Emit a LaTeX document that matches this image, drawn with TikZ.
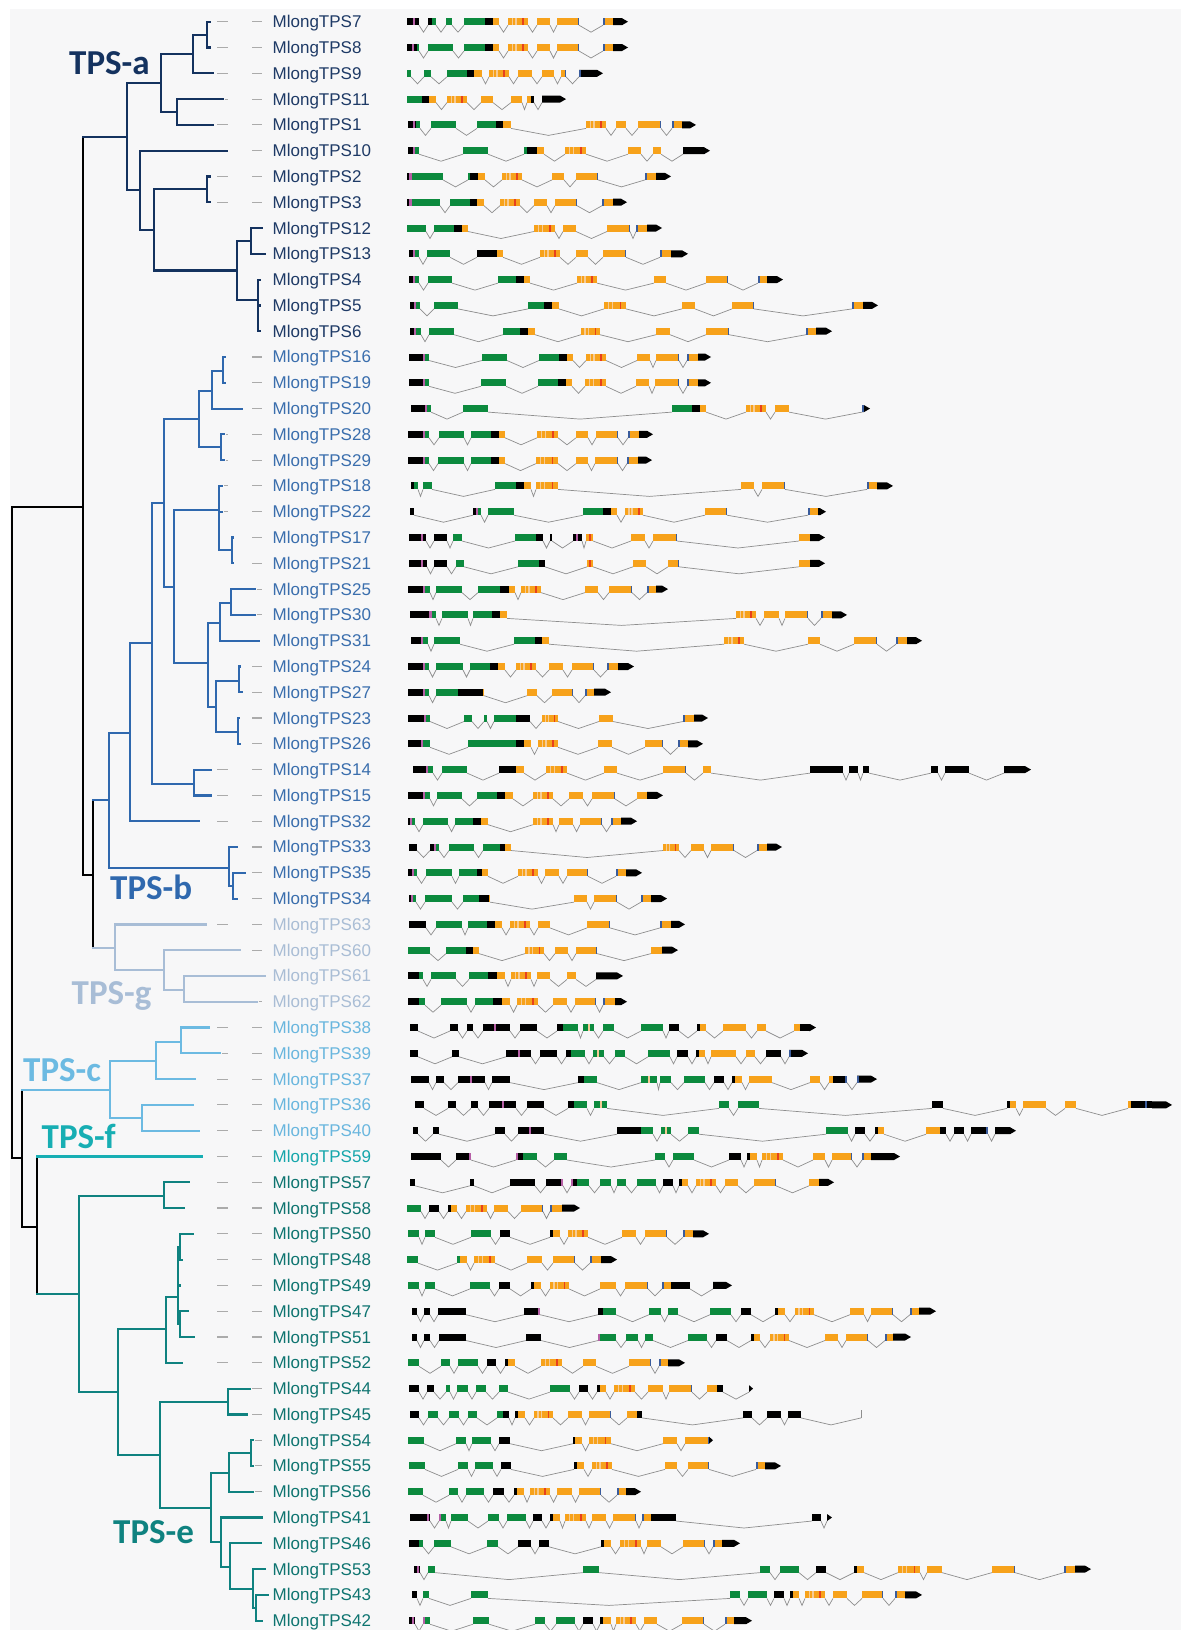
\documentclass[tikz,border=0pt]{standalone}
\usepackage{fontspec}
\setmainfont{Liberation Sans}
\newfontfamily\cladefont{Carlito}
\definecolor{panel}{HTML}{F7F7F8}
\definecolor{ca}{HTML}{14325F}
\definecolor{cb}{HTML}{2F68AE}
\definecolor{cg}{HTML}{A8BDD6}
\definecolor{cc}{HTML}{6CBAE2}
\definecolor{cf}{HTML}{17AEB3}
\definecolor{ce}{HTML}{0F8280}
\definecolor{la}{HTML}{1E3A66}
\definecolor{lb}{HTML}{3A6EAD}
\definecolor{lg}{HTML}{A9BDD5}
\definecolor{lc}{HTML}{69B6DE}
\definecolor{lf}{HTML}{15A6AB}
\definecolor{le}{HTML}{0E7470}
\definecolor{blk}{HTML}{000000}
\definecolor{grn}{HTML}{0C8A3E}
\definecolor{orng}{HTML}{F7A21B}
\definecolor{pnk}{HTML}{B65FA6}
\definecolor{redc}{HTML}{E8401C}
\definecolor{lite}{HTML}{F6CB95}
\definecolor{blu}{HTML}{3A5C9C}
\definecolor{intrc}{HTML}{8E8E8E}
\definecolor{dshc}{HTML}{ABABAB}
\tikzset{
 tl/.style={line width=2.2pt, line cap=rect},
 dsh/.style={line width=1.1pt, draw=dshc},
 intr/.style={line width=0.7pt, draw=intrc, line join=miter},
 lbl/.style={anchor=base west, inner sep=0pt, font=\fontsize{17}{17}\selectfont},
 clade/.style={anchor=base west, inner sep=0pt, font=\cladefont\bfseries\fontsize{35}{35}\selectfont},
}
% tree helpers
\newcommand\inode[6]{\draw[tl,#1] (#2,#4) -- (#3,#4); \draw[tl,#1] (#3,#5) -- (#3,#6);}
\newcommand\leaf[4]{\draw[tl,#1] (#2,#4) -- (#3,#4);
  \ifdim #3pt<225pt \pgfmathsetmacro\dsa{max(#3+2,217)}\draw[dsh] (\dsa,#4) -- (228,#4);\fi
  \ifdim #3pt<258pt \pgfmathsetmacro\dsb{max(#3+2,252)}\draw[dsh] (\dsb,#4) -- (262,#4);\fi}
% gene helpers
\newcommand\intron[2]{\pgfmathtruncatemacro\doit{((#1-\prevx)>1.5)*(\prevx>0)}%
  \ifnum\doit=1 \draw[intr] (\prevx,#2+3.5) -- ({(\prevx+#1)/2},#2+10.5) -- (#1,#2+3.5);\fi}
\newcommand\segK[3]{\intron{#1}{#3}\fill[blk] (#1,#3-3.5) rectangle (#2,#3+3.5);\xdef\prevx{#2}}
\newcommand\segG[3]{\intron{#1}{#3}\fill[grn] (#1,#3-3.5) rectangle (#2,#3+3.5);\xdef\prevx{#2}}
\newcommand\segO[3]{\intron{#1}{#3}\fill[orng] (#1,#3-3.5) rectangle (#2,#3+3.5);\xdef\prevx{#2}}
\newcommand\segE[3]{\intron{#1}{#3}\fill[orng] (#1,#3-3.5) rectangle (#2,#3+3.5);\fill[blu] ({#2-1.5},#3-3.5) rectangle (#2,#3+3.5);\xdef\prevx{#2}}
\newcommand\segS[3]{\intron{#1}{#3}\fill[orng] (#1,#3-3.5) rectangle (#2,#3+3.5);%
  \pgfmathsetmacro\stA{#1+0.18*(#2-#1)}\fill[lite] (\stA,#3-3.5) rectangle +(1.3,7);%
  \pgfmathsetmacro\stB{#1+0.36*(#2-#1)}\fill[lite] (\stB,#3-3.5) rectangle +(1.3,7);%
  \pgfmathsetmacro\stC{#1+0.72*(#2-#1)}\fill[redc] (\stC,#3-3.5) rectangle +(1.6,7);%
  \xdef\prevx{#2}}
\newcommand\segA[3]{\intron{#1}{#3}\pgfmathsetmacro\tipx{max(#1,#2-6)}%
  \fill[blk] (#1,#3-3.5) -- (\tipx,#3-3.5) -- (#2,#3) -- (\tipx,#3+3.5) -- (#1,#3+3.5) -- cycle;\xdef\prevx{#2}}
\newcommand\segT[3]{\intron{#1}{#3}\draw[intr] (#1,#3-4) -- (#1,#3+3.5);\xdef\prevx{#2}}
\newcommand\segp[3]{\fill[pnk] (#1,#3-3.5) rectangle (#2,#3+3.5);}
\newcommand\segb[3]{\fill[blu] (#1,#3-3.5) rectangle (#2,#3+3.5);}
\newcommand\segl[3]{\fill[lite] (#1,#3-3.5) rectangle (#2,#3+3.5);}
\newcommand\segr[3]{\fill[redc] (#1,#3-3.5) rectangle (#2,#3+3.5);}
\newcommand\gene[2]{\gdef\prevx{-100}\foreach \ga/\gb/\gc in {#2}{\csname seg\gc\endcsname{\ga}{\gb}{#1}}}
\begin{document}
\begin{tikzpicture}[x=1pt,y=-1pt]
\useasboundingbox (0,0) rectangle (1181,1630);
\fill[white] (0,0) rectangle (1181,1630);
\fill[panel] (10,9) rectangle (1181,1630);
% ---- backbone
\draw[tl,black] (11.7,506.7) -- (11.7,1158.3);
\inode{black}{11.7}{82.7}{506.7}{136.7}{875}
\inode{black}{82.7}{93.3}{875}{800}{948.3}
\inode{black}{11.7}{21.7}{1158.3}{1090}{1226.7}
\inode{black}{21.7}{36.7}{1226.7}{1156.5}{1294}
% ---- TPS-a
\inode{ca}{193.3}{207.3}{34.6}{21.7}{47.5}
\inode{ca}{160.7}{193.3}{54}{34.6}{73.3}
\inode{ca}{160.7}{176.7}{112}{99.1}{124.9}
\inode{ca}{127.3}{160.7}{83}{54}{112}
\inode{ca}{154}{207.3}{189.3}{176.4}{202.2}
\inode{ca}{237.3}{250.7}{241}{228}{253.8}
\inode{ca}{237.3}{258.3}{300}{279.6}{331.2}
\inode{ca}{154}{237.3}{270.5}{241}{300}
\inode{ca}{140}{154}{230}{189.3}{270.5}
\inode{ca}{127.3}{140}{190.3}{150.7}{230}
\inode{ca}{82.7}{127.3}{136.7}{83}{190.3}
\leaf{ca}{207.3}{210}{21.7}
\leaf{ca}{207.3}{210}{47.5}
\leaf{ca}{193.3}{213.3}{73.3}
\leaf{ca}{176.7}{222.7}{99.1}
\leaf{ca}{176.7}{213.3}{124.9}
\leaf{ca}{140}{226.7}{150.7}
\leaf{ca}{207.3}{210}{176.4}
\leaf{ca}{207.3}{210}{202.2}
\leaf{ca}{250.7}{262}{228}
\leaf{ca}{250.7}{265}{253.8}
\leaf{ca}{258.3}{260}{279.6}
\leaf{ca}{258.3}{260}{305.4}
\leaf{ca}{258.3}{260}{331.2}
% ---- TPS-b
\inode{cb}{212.3}{222.7}{370.7}{357}{382.8}
\inode{cb}{199}{212.3}{390.7}{370.7}{408.6}
\inode{cb}{199}{221}{447.3}{434.3}{460.1}
\inode{cb}{164.3}{199}{419.3}{390.7}{447.3}
\inode{cb}{219}{232.3}{550.3}{537.5}{563.3}
\inode{cb}{174.3}{219}{510}{485.9}{550.3}
\inode{cb}{220}{230.7}{603.3}{589.1}{614.9}
\inode{cb}{208.3}{220}{622.7}{603.3}{640.7}
\inode{cb}{216}{239}{680.7}{666.5}{692.2}
\inode{cb}{216}{237.7}{731.7}{718}{743.8}
\inode{cb}{208.3}{216}{706.7}{680.7}{731.7}
\inode{cb}{174.3}{208.3}{663.3}{622.7}{706.7}
\inode{cb}{164.3}{174.3}{586.7}{510}{663.3}
\inode{cb}{152.3}{164.3}{502.7}{419.3}{586.7}
\inode{cb}{152.3}{194}{784.3}{769.6}{795.4}
\inode{cb}{130}{152.3}{643.3}{502.7}{784.3}
\inode{cb}{109}{130}{732.7}{643.3}{821.2}
\inode{cb}{229.3}{233.3}{886}{872.8}{898.6}
\inode{cb}{109}{229.3}{868.3}{847}{886}
\inode{cb}{93.3}{109}{800}{732.7}{868.3}
\leaf{cb}{222.7}{225}{357}
\leaf{cb}{222.7}{225}{382.8}
\leaf{cb}{212.3}{242.3}{408.6}
\leaf{cb}{221}{224}{434.3}
\leaf{cb}{221}{224}{460.1}
\leaf{cb}{219}{222}{485.9}
\leaf{cb}{219}{222}{511.7}
\leaf{cb}{232.3}{233}{537.5}
\leaf{cb}{232.3}{233}{563.3}
\leaf{cb}{230.7}{255}{589.1}
\leaf{cb}{230.7}{255}{614.9}
\leaf{cb}{220}{259.3}{640.7}
\leaf{cb}{239}{240}{666.5}
\leaf{cb}{239}{242}{692.2}
\leaf{cb}{237.7}{239}{718}
\leaf{cb}{237.7}{240}{743.8}
\leaf{cb}{194}{210.7}{769.6}
\leaf{cb}{194}{210.7}{795.4}
\leaf{cb}{130}{199}{821.2}
\leaf{cb}{229.3}{237}{847}
\leaf{cb}{233.3}{245}{872.8}
\leaf{cb}{233.3}{237}{898.6}
% ---- TPS-g
\inode{cg}{93.3}{115}{948.3}{924.4}{970}
\inode{cg}{115}{164.3}{970}{950.1}{990}
\inode{cg}{164.3}{184.3}{990}{975.9}{1001.7}
\leaf{cg}{115}{206}{924.4}
\leaf{cg}{164.3}{240}{950.1}
\leaf{cg}{184.3}{265}{975.9}
\leaf{cg}{184.3}{256.7}{1001.7}
% ---- TPS-c
\inode{cc}{21.7}{110}{1090}{1061}{1118.3}
\inode{cc}{110}{155.7}{1061}{1041.7}{1079.1}
\inode{cc}{155.7}{181}{1041.7}{1027.5}{1053.3}
\inode{cc}{110}{141.7}{1118.3}{1104.9}{1130.7}
\leaf{cc}{181}{209.3}{1027.5}
\leaf{cc}{181}{220}{1053.3}
\leaf{cc}{155.7}{195}{1079.1}
\leaf{cc}{141.7}{193.3}{1104.9}
\leaf{cc}{141.7}{199}{1130.7}
% ---- TPS-f
\leaf{cf}{36.7}{202.3}{1156.5}
% ---- TPS-e
\inode{ce}{36.7}{79}{1294}{1195.7}{1392.3}
\inode{ce}{79}{164.3}{1195.7}{1182.3}{1208}
\inode{ce}{79}{117.7}{1392.3}{1329.3}{1455}
\inode{ce}{117.7}{165.7}{1329.3}{1296.7}{1362.8}
\inode{ce}{165.7}{177.7}{1296.7}{1246.7}{1324}
\inode{ce}{177.7}{180}{1246.7}{1233.8}{1259.6}
\inode{ce}{177.7}{180}{1324}{1311.2}{1337}
\inode{ce}{117.7}{160}{1455}{1402.3}{1508.3}
\inode{ce}{160}{227.7}{1402.3}{1388.6}{1414.4}
\inode{ce}{160}{211}{1508.3}{1472.7}{1542.3}
\inode{ce}{211}{229}{1472.7}{1453.3}{1491.7}
\inode{ce}{229}{250.7}{1453.3}{1440.2}{1465.9}
\inode{ce}{211}{221}{1542.3}{1517.5}{1566.7}
\inode{ce}{221}{230}{1566.7}{1543.3}{1589}
\inode{ce}{230}{253.3}{1589}{1569.1}{1608}
\inode{ce}{253.3}{255.7}{1608}{1594.9}{1620.7}
\leaf{ce}{164.3}{189.3}{1182.3}
\leaf{ce}{164.3}{184.3}{1208}
\leaf{ce}{180}{193}{1233.8}
\leaf{ce}{180}{182}{1259.6}
\leaf{ce}{177.7}{180}{1285.4}
\leaf{ce}{180}{187.7}{1311.2}
\leaf{ce}{180}{194.3}{1337}
\leaf{ce}{165.7}{181.7}{1362.8}
\leaf{ce}{227.7}{250}{1388.6}
\leaf{ce}{227.7}{247.3}{1414.4}
\leaf{ce}{250.7}{253}{1440.2}
\leaf{ce}{250.7}{253}{1465.9}
\leaf{ce}{229}{253.3}{1491.7}
\leaf{ce}{221}{262.3}{1517.5}
\leaf{ce}{230}{261}{1543.3}
\leaf{ce}{253.3}{265}{1569.1}
\leaf{ce}{255.7}{268.3}{1594.9}
\leaf{ce}{255.7}{262}{1620.7}
% ---- clade labels
\node[clade,text=ca] (cladeA) at (69,74) {TPS-a};
\node[clade,text=cb] (cladeB) at (110,899) {TPS-b};
\node[clade,text=cg] (cladeG) at (71.5,1004) {TPS-g};
\node[clade,text=cc] (cladeC) at (23,1081) {TPS-c};
\node[clade,text=cf] (cladeF) at (41.5,1148.5) {TPS-f};
\node[clade,text=ce] (cladeE) at (113,1543) {TPS-e};
% ---- gene labels
\foreach \i/\n/\c in {0/7/la,1/8/la,2/9/la,3/11/la,4/1/la,5/10/la,6/2/la,7/3/la,8/12/la,9/13/la,10/4/la,11/5/la,12/6/la,
 13/16/lb,14/19/lb,15/20/lb,16/28/lb,17/29/lb,18/18/lb,19/22/lb,20/17/lb,21/21/lb,22/25/lb,23/30/lb,24/31/lb,25/24/lb,26/27/lb,27/23/lb,28/26/lb,29/14/lb,30/15/lb,31/32/lb,32/33/lb,33/35/lb,34/34/lb,
 35/63/lg,36/60/lg,37/61/lg,38/62/lg,
 39/38/lc,40/39/lc,41/37/lc,42/36/lc,43/40/lc,
 44/59/lf,
 45/57/le,46/58/le,47/50/le,48/48/le,49/49/le,50/47/le,51/51/le,52/52/le,53/44/le,54/45/le,55/54/le,56/55/le,57/56/le,58/41/le,59/46/le,60/53/le,61/43/le,62/42/le}
 {\node[lbl,text=\c] (l\n) at (272.5,{21.7+25.79*\i+6}) {MlongTPS\n};}
% ---- gene structures
\gene{21.7}{407/419/K, 413/415/p, 428/432/K, 432/436/G, 446/452/G, 464/485/G, 485/493/K, 493/499/O, 508/528/S, 537/550/O, 557/579/E, 603/613/O, 603/604.5/b, 613/628/A}
\gene{47.5}{407/417/K, 412/414/p, 417/419/G, 428/453/G, 464/485/G, 485/493/K, 493/499/O, 508/528/S, 537/550/O, 557/579/E, 603/613/O, 603/604.5/b, 613/628/A}
\gene{73.3}{407/411/G, 424/431/G, 447/467/G, 467/474/K, 474/482/O, 489/509/S, 518/532/O, 542/554/O, 561/566/E, 579/603/A, 579/580.5/b}
\gene{99.1}{407/422/G, 422/429/K, 429/436/O, 447/467/S, 481/493/O, 511/522/O, 527/531/O, 531/534/K, 542/566/A}
\gene{124.9}{408/416/K, 413/415/p, 416/420/G, 431/456/G, 477/496/G, 496/503/K, 503/511/O, 586/606/S, 616/626/O, 638/661/E, 672/682/O, 672/673.5/b, 682/696/A}
\gene{150.7}{408/415/K, 413/415/p, 415/419/G, 463/488/G, 524/527/G, 527/537/K, 537/544/O, 565/586/S, 628/641/O, 653/661/O, 683/710/A}
\gene{176.4}{407/412/K, 409/411.5/p, 412/443/G, 468/470/G, 470/478/K, 478/485/O, 502/522/S, 552/564/O, 576/598/E, 645/656/O, 645/646.5/b, 656/671/A}
\gene{202.2}{407/412/K, 409/411.5/p, 412/440/G, 450/470/G, 470/477/K, 477/484/O, 500/520/S, 534/547/O, 555/577/E, 602/613/O, 602/603.5/b, 613/627/A}
\gene{228}{407/426/G, 434/454/G, 454/462/K, 462/468/O, 534/555/S, 563/576/O, 607/630/E, 636/647/O, 636/637.5/b, 647/662/A}
\gene{253.8}{409/415/K, 413/415/p, 415/419/G, 427/450/G, 477/497/K, 497/503/O, 540/560/S, 576/588/O, 603/626/E, 660/671/O, 660/661.5/b, 671/688/A}
\gene{279.6}{409/415/K, 413/415/p, 415/419/G, 428/452/G, 498/516/G, 516/524/K, 524/530/O, 577/597/S, 654/666/O, 706/728/E, 758/767/O, 758/759.5/b, 767/783/A}
\gene{305.4}{410/416/K, 414/416/p, 416/420/G, 434/458/G, 528/544/G, 544/552/K, 552/559/O, 604/626/S, 682/695/O, 732/754/E, 852/863/O, 852/853.5/b, 863/878/A}
\gene{331.2}{410/416/K, 414/416/p, 416/421/G, 429/454/G, 503/520/G, 520/528/K, 528/535/O, 581/600/S, 656/670/O, 706/729/E, 806/816/O, 806/807.5/b, 816/832/A}
\gene{357}{409/425/K, 423/425/p, 425/429/G, 482/507/G, 539/559/G, 559/567/K, 567/573/O, 586/606/S, 637/650/O, 656/679/E, 687/698/O, 687/688.5/b, 698/711/A}
\gene{382.8}{409/425/K, 423/425/p, 425/429/G, 481/506/G, 538/558/G, 558/566/K, 566/572/O, 585/606/S, 636/649/O, 655/679/E, 687/698/O, 687/688.5/b, 698/711/A}
\gene{408.6}{411/427/K, 425/427/p, 427/431/G, 463/488/G, 672/692/G, 692/700/K, 700/706/O, 746/766/S, 775/789/O, 862/870/A, 862/864/b}
\gene{434.3}{408/425/K, 423/425/p, 425/429/G, 439/464/G, 471/491/G, 491/499/K, 499/505/O, 537/558/S, 576/588/O, 596/618/E, 628/639/O, 628/629.5/b, 639/653/A}
\gene{460.1}{408/425/K, 423/425/p, 425/429/G, 438/464/G, 471/491/G, 491/499/K, 499/505/O, 536/558/S, 576/588/O, 595/618/E, 627/638/O, 627/628.5/b, 638/652/A}
\gene{485.9}{411/414/K, 414/418/G, 423/432/G, 495/516/G, 516/524/K, 524/531/O, 536/558/S, 741/754/O, 762/785/E, 867/877/O, 867/868.5/b, 877/893/A}
\gene{511.7}{410/414/K, 473/478/K, 476/478/p, 478/481/G, 488/514/G, 583/603/G, 603/611/K, 611/617/O, 625/643/S, 705/727/E, 808/818/O, 808/809.5/b, 818/826/A}
\gene{537.5}{409/426/K, 421/423/p, 434/447/K, 453/462/G, 515/536/G, 536/543/K, 550/552/K, 573/582/K, 576/578/p, 586/593/O, 589/590.5/r, 631/645/O, 653/677/E, 799/810/O, 810/825/A}
\gene{563.3}{409/427/K, 421/423/p, 434/447/K, 456/464/G, 518/539/G, 539/545/K, 587/593/O, 589/590.5/r, 633/646/O, 668/679/E, 799/810/O, 810/825/A}
\gene{589.1}{408/425/K, 423/425/p, 425/430/G, 436/462/G, 478/500/G, 500/509/K, 509/515/O, 521/541/S, 585/598/O, 609/632/E, 647/656/O, 647/648.5/b, 656/668/A}
\gene{614.9}{410/432/K, 429/431.5/p, 432/436/G, 442/468/G, 473/492/G, 492/500/K, 500/507/O, 736/756/S, 764/779/O, 785/808/E, 821/832/O, 821/822.5/b, 832/847/A}
\gene{640.7}{411/423/K, 421/423/p, 423/428/G, 434/460/G, 514/535/G, 535/542/K, 542/549/O, 724/744/S, 808/820/O, 854/877/E, 896/907/O, 896/897.5/b, 907/922/A}
\gene{666.5}{408/425/K, 423/425/p, 425/429/G, 436/463/G, 470/490/G, 490/498/K, 498/505/O, 516/536/S, 549/563/O, 572/594/E, 607/618/O, 607/608.5/b, 618/634/A}
\gene{692.2}{408/425/K, 423/425/p, 425/429/G, 436/458/G, 458/483/K, 483/484/O, 527/537/O, 552/573/E, 585/594/O, 585/586.5/b, 594/611/A}
\gene{718}{408/426/K, 424/426/p, 426/430/G, 464/472/G, 484/487/G, 494/516/G, 516/530/K, 542/558/S, 599/613/O, 683/694/O, 683/684.5/b, 694/708/A}
\gene{743.8}{408/423/K, 421/423/p, 423/430/G, 468/516/G, 516/524/K, 524/531/O, 538/558/S, 598/612/O, 645/663/E, 678/688/O, 678/679.5/b, 688/703/A}
\gene{769.6}{413/428/K, 426/428/p, 428/433/G, 442/467/G, 499/516/K, 516/524/O, 546/567/S, 604/617/O, 663/686/E, 703/711/O, 810/843/K, 849/858/K, 863/869/K, 931/938/K, 945/969/K, 1004/1031/A}
\gene{795.4}{408/425/K, 423/425/p, 425/430/G, 437/462/G, 477/497/G, 497/505/K, 505/513/O, 533/553/S, 569/583/O, 592/615/E, 637/647/O, 647/663/A}
\gene{821.2}{408/412/K, 410/412/p, 412/415/G, 423/448/G, 455/473/G, 473/481/K, 481/488/O, 533/553/S, 559/573/O, 580/602/E, 611/621/O, 611/612.5/b, 621/637/A}
\gene{847}{409/417/K, 430/436/K, 434/436/p, 436/439/G, 449/474/G, 483/500/G, 500/505/K, 505/511/O, 663/679/S, 691/704/O, 711/734/E, 757/767/O, 757/758.5/b, 767/782/A}
\gene{872.8}{408/414/K, 412/414/p, 414/417/G, 426/452/G, 459/477/G, 477/482/K, 482/488/O, 518/538/S, 545/559/O, 567/588/E, 616/626/O, 616/617.5/b, 626/642/A}
\gene{898.6}{409/413/K, 411/413/p, 413/416/G, 425/452/G, 463/479/G, 479/489/K, 489/490/O, 574/587/O, 594/617/E, 641/651/O, 641/642.5/b, 651/667/A}
\gene{924.4}{409/426/K, 436/462/G, 468/487/G, 487/495/K, 495/502/O, 510/530/S, 538/550/O, 587/610/E, 660/671/O, 660/661.5/b, 671/685/A}
\gene{950.1}{408/430/G, 446/466/G, 466/473/K, 473/479/O, 525/544/S, 555/568/O, 576/597/E, 651/662/O, 662/678/A}
\gene{975.9}{408/419/K, 419/423/G, 431/456/G, 469/488/G, 488/497/K, 497/505/O, 511/531/S, 537/550/O, 567/576/O, 596/623/A}
\gene{1001.7}{408/419/K, 419/425/G, 441/467/G, 475/493/G, 493/502/K, 502/510/O, 517/538/S, 553/567/O, 575/596/E, 603/615/O, 603/604.5/b, 615/627/A}
\gene{1027.5}{410/418/K, 450/458/K, 467/473/K, 483/510/K, 494/496/p, 520/537/K, 557/563/K, 563/578/G, 583/594/G, 588/589.5/l, 603/614/G, 641/663/G, 669/679/K, 697/700/K, 700/706/O, 723/746/O, 757/766/O, 794/800/O, 800/809/K, 809/816/A}
\gene{1053.3}{410/418/K, 452/459/K, 506/531/K, 518/520/p, 540/557/K, 566/571/K, 571/585/G, 593/604/G, 597/598.5/l, 615/625/G, 648/670/G, 677/688/K, 696/699/K, 699/705/O, 711/736/O, 746/755/O, 766/781/K, 789/808/A, 789/791/b}
\gene{1079.1}{411/429/K, 436/444/K, 458/485/K, 470/472/p, 492/510/K, 578/584/K, 584/597/G, 641/657/G, 648/649.5/l, 660/671/G, 684/705/G, 714/724/K, 732/735/K, 735/742/O, 749/772/O, 810/820/O, 829/833/O, 833/847/K, 845/847/b, 857/877/A, 857/859/b}
\gene{1104.9}{415/424/K, 448/456/K, 471/478/K, 489/516/K, 502/504/p, 527/544/K, 568/574/K, 574/587/G, 594/607/G, 600/601.5/l, 719/729/G, 738/759/G, 932/943/K, 1007/1010/K, 1010/1016/O, 1023/1046/O, 1065/1076/O, 1128/1131/O, 1131/1152/K, 1145/1147/b, 1152/1172/A}
\gene{1130.7}{413/418/K, 433/439/K, 495/505/K, 518/544/K, 529/531/p, 617/641/K, 641/653/G, 661/671/G, 665/666.5/l, 688/699/G, 826/848/G, 855/865/K, 875/878/K, 878/884/O, 926/940/O, 940/946/K, 954/964/K, 971/988/K, 986/988/b, 995/1016/A}
\gene{1156.5}{411/441/K, 456/471/K, 469/471/p, 516/523/K, 516/518/p, 523/537/G, 554/567/G, 655/665/G, 673/694/G, 729/741/K, 747/750/K, 750/757/O, 762/783/S, 813/825/O, 832/852/E, 862/871/O, 862/863.5/b, 871/900/A}
\gene{1182.3}{410/415/K, 470/474/K, 510/535/K, 546/563/K, 561/563/p, 571/577/K, 571/573/p, 577/589/G, 600/611/G, 617/626/G, 637/656/G, 663/673/K, 679/682/K, 682/688/O, 696/716/S, 725/738/O, 754/776/E, 809/819/O, 819/834/A}
\gene{1208}{407/421/G, 429/439/K, 448/451/K, 451/457/O, 466/487/S, 494/508/O, 521/543/E, 550/562/O, 550/551.5/b, 562/580/A}
\gene{1233.8}{408/419/G, 425/435/G, 471/491/G, 500/510/K, 550/553/K, 553/560/O, 568/588/S, 622/636/O, 645/667/E, 683/693/O, 683/684.5/b, 693/709/A}
\gene{1259.6}{407/418/G, 457/460/G, 460/467/O, 474/495/S, 527/542/O, 553/575/E, 590/601/O, 590/591.5/b, 601/617/A}
\gene{1285.4}{408/419/G, 425/435/G, 470/490/G, 499/510/K, 531/534/K, 534/541/O, 550/569/S, 600/616/O, 625/648/E, 662/671/O, 662/663.5/b, 671/690/K, 713/732/A}
\gene{1311.2}{412/417/K, 424/430/K, 438/466/K, 524/540/K, 538/540/p, 598/603/K, 603/616/G, 649/661/G, 668/678/G, 710/731/G, 741/751/K, 775/778/K, 778/785/O, 795/814/S, 850/864/O, 871/893/E, 910/919/O, 910/911.5/b, 919/936/A}
\gene{1337}{412/417/K, 424/430/K, 439/466/K, 526/541/K, 598/616/G, 598/600/p, 626/638/G, 645/653/G, 688/707/G, 716/727/K, 751/754/K, 754/760/O, 770/789/S, 825/838/O, 846/868/E, 885/893/O, 885/886.5/b, 893/911/A}
\gene{1362.8}{408/419/G, 441/450/G, 458/478/G, 487/496/K, 505/508/K, 508/515/O, 541/562/S, 583/596/O, 629/651/E, 659/668/O, 659/660.5/b, 668/685/A}
\gene{1388.6}{409/419/K, 427/434/K, 446/450/G, 457/468/G, 476/486/G, 499/508/G, 550/570/G, 579/588/K, 597/600/K, 600/606/O, 614/635/S, 648/663/O, 669/692/E, 707/717/O, 717/723/K, 749/753/A}
\gene{1414.4}{410/419/K, 428/438/G, 449/459/G, 468/477/G, 497/503/G, 503/509/K, 515/518/K, 518/525/O, 534/553/S, 568/582/O, 589/611/E, 627/637/O, 637/642/K, 743/752/K, 767/781/K, 788/801/K, 861/861/T}
\gene{1440.2}{408/424/G, 456/466/G, 472/491/G, 499/510/K, 573/575/K, 575/582/O, 589/611/S, 663/677/O, 685/709/E, 709/713/A}
\gene{1465.9}{409/425/G, 458/468/G, 475/493/G, 501/511/K, 574/577/K, 577/584/O, 592/612/S, 665/677/O, 688/709/E, 756/765/O, 756/757.5/b, 765/781/A}
\gene{1491.7}{408/423/G, 449/458/G, 466/484/G, 493/504/K, 514/517/K, 517/524/O, 530/550/S, 557/572/O, 579/601/E, 617/626/O, 617/618.5/b, 626/641/A}
\gene{1517.5}{410/430/K, 427/429/p, 439/446/G, 439/441/p, 451/468/G, 488/499/G, 507/526/G, 533/542/K, 550/553/K, 553/560/O, 565/586/S, 592/606/O, 613/636/E, 642/651/O, 642/643.5/b, 651/676/K, 812/821/K, 827/832/A}
\gene{1543.3}{409/419/K, 419/423/G, 434/451/G, 487/498/G, 518/531/K, 539/549/K, 601/604/K, 604/611/O, 620/641/S, 647/661/O, 683/705/E, 713/722/O, 713/714.5/b, 722/740/A}
\gene{1569.1}{414/420/K, 417/419/p, 428/435/G, 583/599/G, 760/770/G, 780/799/G, 816/826/K, 854/857/K, 857/864/O, 898/920/S, 927/942/O, 992/1015/E, 1064/1075/O, 1064/1065.5/b, 1075/1091/A}
\gene{1594.9}{412/417/K, 423/429/G, 471/488/G, 730/740/G, 748/767/G, 774/784/K, 790/793/K, 793/799/O, 805/825/S, 833/847/O, 862/883/E, 895/905/O, 895/896.5/b, 905/922/A}
\gene{1620.7}{409/415/K, 412/414/p, 423/430/G, 423/425/p, 473/489/G, 535/545/G, 556/575/G, 583/593/K, 600/603/K, 603/611/O, 616/636/S, 644/657/O, 682/704/E, 725/734/O, 725/726.5/b, 734/752/A}
\end{tikzpicture}
\end{document}
